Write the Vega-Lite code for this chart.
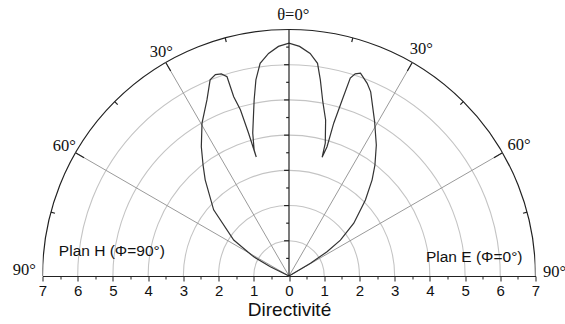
{
  "$schema": "https://vega.github.io/schema/vega-lite/v6.json",
  "width": 493,
  "height": 264.1,
  "autosize": {"type": "none"},
  "padding": {"left": 42.5, "top": 11.9, "right": 29.5, "bottom": 48},
  "background": "white",
  "view": {"stroke": null},
  "datasets": {
    "circles": [{"x":0,"y":0,"r":1},{"x":0,"y":0,"r":2},{"x":0,"y":0,"r":3},{"x":0,"y":0,"r":4},{"x":0,"y":0,"r":5},{"x":0,"y":0,"r":6}],
    "outer": [{"x":0,"y":0,"r":7}],
    "radials": [
      {"x":0,"y":0,"x2":3.5,"y2":6.062},{"x":0,"y":0,"x2":-3.5,"y2":6.062},
      {"x":0,"y":0,"x2":6.062,"y2":3.5},{"x":0,"y":0,"x2":-6.062,"y2":3.5}
    ],
    "blackRules": [
      {"x":0,"y":0,"x2":0,"y2":7},
      {"x":3.36,"y":5.82,"x2":3.5,"y2":6.062},{"x":-3.36,"y":5.82,"x2":-3.5,"y2":6.062},
      {"x":5.82,"y":3.36,"x2":6.062,"y2":3.5},{"x":-5.82,"y":3.36,"x2":-6.062,"y2":3.5},
      {"x":1.781,"y":6.646,"x2":1.812,"y2":6.761},{"x":-1.781,"y":6.646,"x2":-1.812,"y2":6.761},
      {"x":4.865,"y":4.865,"x2":4.95,"y2":4.95},{"x":-4.865,"y":4.865,"x2":-4.95,"y2":4.95},
      {"x":6.646,"y":1.781,"x2":6.761,"y2":1.812},{"x":-6.646,"y":1.781,"x2":-6.761,"y2":1.812},
      {"x":-0.14,"y":1,"x2":0,"y2":1},{"x":-0.14,"y":2,"x2":0,"y2":2},{"x":-0.14,"y":3,"x2":0,"y2":3},
      {"x":-0.14,"y":4,"x2":0,"y2":4},{"x":-0.14,"y":5,"x2":0,"y2":5},{"x":-0.14,"y":6,"x2":0,"y2":6},
      {"x":-0.08,"y":0.5,"x2":0,"y2":0.5},{"x":-0.08,"y":1.5,"x2":0,"y2":1.5},{"x":-0.08,"y":2.5,"x2":0,"y2":2.5},
      {"x":-0.08,"y":3.5,"x2":0,"y2":3.5},{"x":-0.08,"y":4.5,"x2":0,"y2":4.5},{"x":-0.08,"y":5.5,"x2":0,"y2":5.5},
      {"x":-0.08,"y":6.5,"x2":0,"y2":6.5}
    ],
    "curve": [
      {"o":1,"x":0,"y":0},{"o":2,"x":-0.53,"y":0.26},{"o":3,"x":-1.01,"y":0.55},{"o":4,"x":-1.57,"y":1.02},
      {"o":5,"x":-2.14,"y":1.88},{"o":6,"x":-2.38,"y":2.73},{"o":7,"x":-2.44,"y":3.15},{"o":8,"x":-2.49,"y":3.67},
      {"o":9,"x":-2.47,"y":4.34},{"o":10,"x":-2.33,"y":5.0},{"o":11,"x":-2.24,"y":5.57},{"o":12,"x":-2.09,"y":5.72},
      {"o":13,"x":-1.92,"y":5.74},{"o":14,"x":-1.76,"y":5.66},{"o":15,"x":-1.57,"y":5.09},{"o":16,"x":-1.38,"y":4.72},
      {"o":17,"x":-1.15,"y":4.06},{"o":18,"x":-0.93,"y":3.38},{"o":19,"x":-0.99,"y":3.58},{"o":20,"x":-1.03,"y":4.06},
      {"o":21,"x":-0.99,"y":5.0},{"o":22,"x":-0.94,"y":5.57},{"o":23,"x":-0.82,"y":6.04},{"o":24,"x":-0.58,"y":6.32},
      {"o":25,"x":-0.3,"y":6.52},{"o":26,"x":0,"y":6.61},
      {"o":27,"x":0.3,"y":6.52},{"o":28,"x":0.6,"y":6.32},{"o":29,"x":0.81,"y":6.04},{"o":30,"x":0.89,"y":5.57},
      {"o":31,"x":0.96,"y":4.95},{"o":32,"x":1.04,"y":4.43},{"o":33,"x":1.03,"y":3.77},{"o":34,"x":0.94,"y":3.37},
      {"o":35,"x":1.08,"y":3.67},{"o":36,"x":1.27,"y":4.34},{"o":37,"x":1.51,"y":5.0},{"o":38,"x":1.74,"y":5.62},
      {"o":39,"x":1.88,"y":5.74},{"o":40,"x":2.03,"y":5.76},{"o":41,"x":2.22,"y":5.47},{"o":42,"x":2.32,"y":5.23},
      {"o":43,"x":2.43,"y":4.4},{"o":44,"x":2.48,"y":3.72},{"o":45,"x":2.44,"y":3.15},{"o":46,"x":2.36,"y":2.73},
      {"o":47,"x":2.17,"y":2.16},{"o":48,"x":1.84,"y":1.5},{"o":49,"x":1.46,"y":1.02},{"o":50,"x":1.08,"y":0.69},
      {"o":51,"x":0.61,"y":0.36},{"o":52,"x":0,"y":0}
    ],
    "angleLabels": [
      {"x":0.12,"y":7.4,"t":"θ=0°"},
      {"x":-3.63,"y":6.37,"t":"30°"},{"x":3.76,"y":6.45,"t":"30°"},
      {"x":-6.38,"y":3.68,"t":"60°"},{"x":6.53,"y":3.71,"t":"60°"},
      {"x":-7.52,"y":0.16,"t":"90°"},{"x":7.54,"y":0.11,"t":"90°"}
    ],
    "planLabels": [
      {"x":-5.03,"y":0.71,"t":"Plan H (Φ=90°)"},
      {"x":5.26,"y":0.55,"t":"Plan E (Φ=0°)"}
    ]
  },
  "encoding": {
    "x": {
      "field": "x", "type": "quantitative",
      "scale": {"domain": [-7, 7], "nice": false, "zero": false},
      "axis": {
        "values": [-7,-6.5,-6,-5.5,-5,-4.5,-4,-3.5,-3,-2.5,-2,-1.5,-1,-0.5,0,0.5,1,1.5,2,2.5,3,3.5,4,4.5,5,5.5,6,6.5,7],
        "labelExpr": "datum.value % 1 === 0 ? '' + abs(datum.value) : ''",
        "title": "Directivité",
        "grid": false,
        "domainColor": "#222", "domainWidth": 1.2,
        "tickColor": "#222", "tickWidth": 1,
        "tickSize": {"condition": {"test": "datum.value % 1 === 0", "value": 5}, "value": 3},
        "labelFont": "Liberation Sans", "labelFontSize": 15, "labelColor": "#111",
        "labelPadding": 2, "labelOverlap": false, "labelFlush": false,
        "titleFont": "Liberation Sans", "titleFontSize": 19, "titleFontWeight": "normal", "titleColor": "#111",
        "titlePadding": 2
      }
    },
    "y": {
      "field": "y", "type": "quantitative",
      "scale": {"domain": [0, 7.5], "nice": false, "zero": false},
      "axis": null
    }
  },
  "layer": [
    {
      "data": {"name": "circles"},
      "mark": {"type": "point", "shape": "circle", "filled": false, "clip": true, "stroke": "#c4c4c4", "strokeWidth": 1.1, "opacity": 1},
      "encoding": {
        "size": {"field": "r", "type": "quantitative", "scale": {"type": "pow", "exponent": 2, "domain": [0, 7], "range": [0, 243049]}, "legend": null}
      }
    },
    {
      "data": {"name": "outer"},
      "mark": {"type": "point", "shape": "circle", "filled": false, "clip": true, "stroke": "#222", "strokeWidth": 1.2, "opacity": 1},
      "encoding": {
        "size": {"field": "r", "type": "quantitative", "scale": {"type": "pow", "exponent": 2, "domain": [0, 7], "range": [0, 243049]}, "legend": null}
      }
    },
    {
      "data": {"name": "radials"},
      "mark": {"type": "rule", "color": "#9a9a9a", "strokeWidth": 1},
      "encoding": {"x2": {"field": "x2"}, "y2": {"field": "y2"}}
    },
    {
      "data": {"name": "curve"},
      "mark": {"type": "line", "color": "#333", "strokeWidth": 1.2},
      "encoding": {"order": {"field": "o", "type": "quantitative"}}
    },
    {
      "data": {"name": "blackRules"},
      "mark": {"type": "rule", "color": "#222", "strokeWidth": 1.2},
      "encoding": {"x2": {"field": "x2"}, "y2": {"field": "y2"}}
    },
    {
      "data": {"name": "angleLabels"},
      "mark": {"type": "text", "font": "Liberation Serif", "fontSize": 16.5, "color": "#111", "align": "center", "baseline": "middle"},
      "encoding": {"text": {"field": "t"}}
    },
    {
      "data": {"name": "planLabels"},
      "mark": {"type": "text", "font": "Liberation Sans", "fontSize": 15.5, "color": "#111", "align": "center", "baseline": "middle"},
      "encoding": {"text": {"field": "t"}}
    }
  ]
}
